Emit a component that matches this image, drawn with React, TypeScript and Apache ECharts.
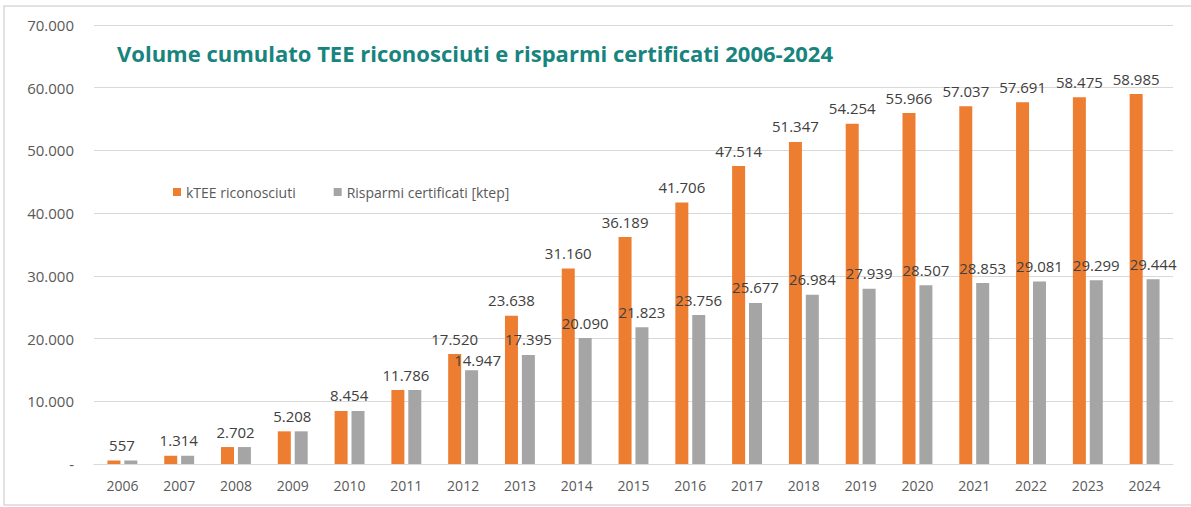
import React, { useEffect, useRef } from "react";
import * as echarts from "echarts";

const years = ["2006","2007","2008","2009","2010","2011","2012","2013","2014","2015","2016","2017","2018","2019","2020","2021","2022","2023","2024"];
const kteeRiconosciuti = [557,1314,2702,5208,8454,11786,17520,23638,31160,36189,41706,47514,51347,54254,55966,57037,57691,58475,58985];
const risparmiCertificati = [557,1314,2702,5208,8454,11786,14947,17395,20090,21823,23756,25677,26984,27939,28507,28853,29081,29299,29444];
const yTicks = [0,10000,20000,30000,40000,50000,60000,70000];

const TITLE = "Volume cumulato TEE riconosciuti e risparmi certificati 2006-2024";
const FONT = "'Open Sans', 'Noto Sans', sans-serif";

const fmt = (v: number) => (v === 0 ? "-" : String(v).replace(/\B(?=(\d{3})+(?!\d))/g, "."));

export default function App() {
  const ref = useRef<HTMLDivElement>(null);
  useEffect(() => {
    document.body.style.margin = "0";
    const chart = echarts.init(ref.current!, null, { renderer: "svg" });
    const labelBase = {
      show: true,
      position: "top" as const,
      distance: 8,
      fontFamily: FONT,
      fontSize: 15,
      color: "#404040",
      formatter: (p: any) => fmt(p.value),
    };
    chart.setOption({
      animation: false,
      backgroundColor: "#ffffff",
      textStyle: { fontFamily: FONT },
      grid: { left: 94, right: 18, top: 25, bottom: 43, containLabel: false },
      graphic: [
        {
          type: "rect",
          shape: { x: 4, y: 6, width: 1200, height: 499 },
          style: { fill: "none", stroke: "#d9d9d9", lineWidth: 1.5 },
          silent: true,
          z: -10,
        },
        {
          type: "text",
          left: 117,
          top: 42,
          style: {
            text: TITLE,
            fill: "#17847e",
            font: `bold 22px ${FONT}`,
          },
        },
      ],
      legend: {
        left: 168,
        top: 180,
        icon: "rect",
        itemWidth: 8,
        itemHeight: 8,
        itemGap: 38,
        textStyle: { fontFamily: FONT, fontSize: 14, color: "#595959" },
        data: ["kTEE riconosciuti", "Risparmi certificati [ktep]"],
      },
      xAxis: {
        type: "category",
        data: years,
        axisLine: { show: true, lineStyle: { color: "#d9d9d9", width: 1 } },
        axisTick: { show: false },
        axisLabel: { color: "#595959", fontSize: 14, fontFamily: FONT, margin: 14 },
      },
      yAxis: {
        type: "value",
        min: yTicks[0],
        max: yTicks[yTicks.length - 1],
        interval: 10000,
        axisLine: { show: false },
        axisTick: { show: false },
        splitLine: { lineStyle: { color: "#d9d9d9", width: 1 } },
        axisLabel: {
          color: "#595959",
          fontSize: 15,
          fontFamily: FONT,
          margin: 20,
          formatter: (v: number) => fmt(v),
        },
      },
      series: [
        {
          name: "kTEE riconosciuti",
          type: "bar",
          barWidth: 13,
          barGap: "30%",
          itemStyle: { color: "#ED7D31" },
          label: labelBase,
          data: kteeRiconosciuti.map((v, i) =>
            i < 6 ? { value: v, label: { offset: [8, 0] } } : v
          ),
        },
        {
          name: "Risparmi certificati [ktep]",
          type: "bar",
          barWidth: 13,
          itemStyle: { color: "#A5A5A5" },
          label: labelBase,
          data: risparmiCertificati.map((v, i) =>
            i < 6
              ? { value: v, label: { show: false } }
              : i === 6
              ? { value: v, label: { offset: [6, 5] } }
              : v
          ),
        },
      ],
    });
    return () => chart.dispose();
  }, []);
  return <div ref={ref} style={{ width: 1191, height: 507 }} />;
}
